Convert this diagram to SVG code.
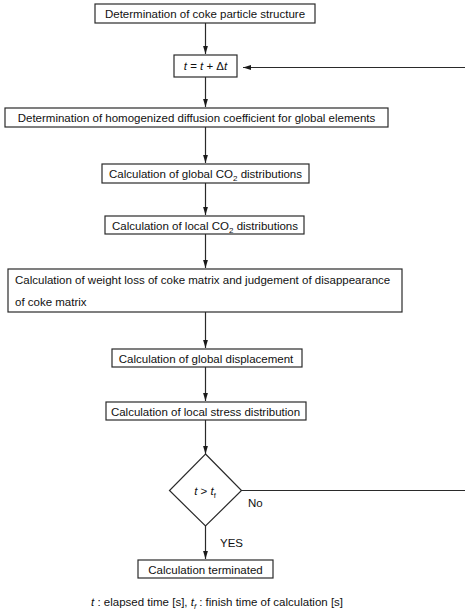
<svg xmlns="http://www.w3.org/2000/svg" width="465" height="610" viewBox="0 0 465 610">
<defs>
<marker id="ah" markerWidth="8" markerHeight="6" refX="8" refY="3" orient="auto" markerUnits="userSpaceOnUse">
<path d="M0,0.6 L8,3 L0,5.4 Z" fill="#1a1a1a"/>
</marker>
<style>
.box{fill:#fff;stroke:#2a2a2a;stroke-width:1.2}
.t{font-family:"Liberation Sans",Arial,sans-serif;font-size:11.5px;fill:#111}
.c{text-anchor:middle}
.con{fill:none;stroke:#2a2a2a;stroke-width:1.2}
</style>
</defs>
<rect width="465" height="610" fill="#fff"/>
<g id="connectors">
<line class="con" x1="205.5" y1="23" x2="205.5" y2="54" marker-end="url(#ah)"/>
<line class="con" x1="205.5" y1="77" x2="205.5" y2="107" marker-end="url(#ah)"/>
<line class="con" x1="205.5" y1="127" x2="205.5" y2="163" marker-end="url(#ah)"/>
<line class="con" x1="205.5" y1="183" x2="205.5" y2="215" marker-end="url(#ah)"/>
<line class="con" x1="205.5" y1="234" x2="205.5" y2="268" marker-end="url(#ah)"/>
<line class="con" x1="205.5" y1="312" x2="205.5" y2="348" marker-end="url(#ah)"/>
<line class="con" x1="205.5" y1="367" x2="205.5" y2="401" marker-end="url(#ah)"/>
<line class="con" x1="205.5" y1="420" x2="205.5" y2="454" marker-end="url(#ah)"/>
<line class="con" x1="205.5" y1="526" x2="205.5" y2="559" marker-end="url(#ah)"/>
<path class="con" d="M241,490.5 H467 V67.5 H243" marker-end="url(#ah)"/>
<text class="t" x="248" y="507">No</text>
<text class="t" x="220" y="547">YES</text>
</g>
<g id="n1">
<rect class="box" x="95" y="4" width="220" height="19"/>
<text class="t c" x="205" y="18">Determination of coke particle structure</text>
</g>
<g id="n2">
<rect class="box" x="174" y="55" width="63" height="22"/>
<text class="t c" x="205.5" y="70"><tspan font-style="italic">t</tspan> = <tspan font-style="italic">t</tspan> + Δ<tspan font-style="italic">t</tspan></text>
</g>
<g id="n3">
<rect class="box" x="5" y="108" width="383" height="19"/>
<text class="t c" x="196.5" y="122">Determination of homogenized diffusion coefficient for global elements</text>
</g>
<g id="n4">
<rect class="box" x="102" y="164" width="207" height="19"/>
<text class="t c" x="205.5" y="178">Calculation of global CO<tspan font-size="8" dy="3">2</tspan><tspan dy="-3"> distributions</tspan></text>
</g>
<g id="n5">
<rect class="box" x="105" y="216" width="199" height="18"/>
<text class="t c" x="205" y="230">Calculation of local CO<tspan font-size="8" dy="3">2</tspan><tspan dy="-3"> distributions</tspan></text>
</g>
<g id="n6">
<rect class="box" x="8" y="269" width="394" height="43"/>
<text class="t" x="15" y="284">Calculation of weight loss of coke matrix and judgement of disappearance</text>
<text class="t" x="15" y="306">of coke matrix</text>
</g>
<g id="n7">
<rect class="box" x="112" y="349" width="190" height="18"/>
<text class="t c" x="206" y="362.5">Calculation of global displacement</text>
</g>
<g id="n8">
<rect class="box" x="106" y="402" width="200" height="18"/>
<text class="t c" x="205.5" y="415.5">Calculation of local stress distribution</text>
</g>
<g id="n9">
<polygon class="box" points="205.5,454 241.5,490.5 205.5,526 169.5,490.5"/>
<text class="t c" x="205" y="495"><tspan font-style="italic">t</tspan> &gt; <tspan font-style="italic">t</tspan><tspan font-size="7.5" dy="2.5">f</tspan></text>
</g>
<g id="n10">
<rect class="box" x="138" y="560" width="135" height="18"/>
<text class="t c" x="205.5" y="573.5">Calculation terminated</text>
</g>
<g id="note">
<text class="t" x="91" y="606"><tspan font-style="italic">t</tspan> : elapsed time [s],  <tspan font-style="italic">t</tspan><tspan font-size="7.5" dy="2.5" font-style="italic">f</tspan><tspan dy="-2.5"> : finish time of calculation [s]</tspan></text>
</g>
</svg>
